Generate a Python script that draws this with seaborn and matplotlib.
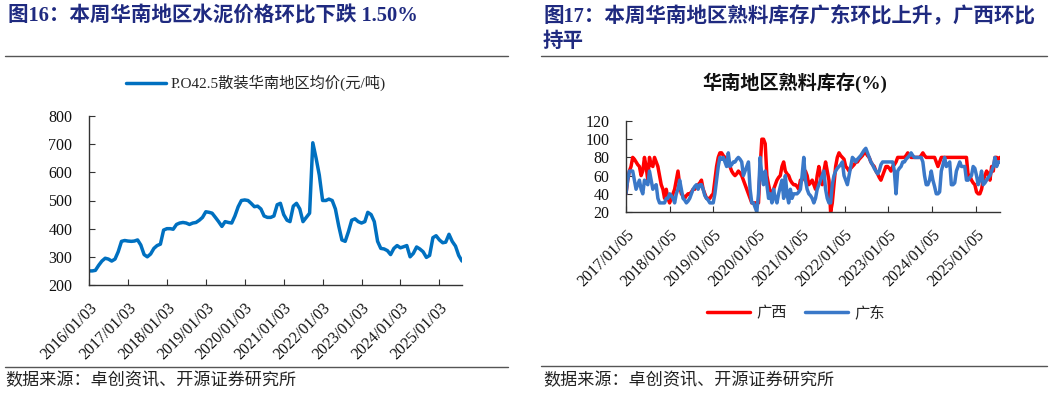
import numpy as np
import pandas as pd
import matplotlib
matplotlib.use("Agg")
import matplotlib.pyplot as plt
from matplotlib.lines import Line2D
import seaborn as sns

# ---------------- data ----------------
left_title = "图16：本周华南地区水泥价格环比下跌 1.50%"
left_series_name = "P.O42.5散装华南地区均价(元/吨)"
left_ticks = ["2016/01/03", "2017/01/03", "2018/01/03", "2019/01/03", "2020/01/03",
              "2021/01/03", "2022/01/03", "2023/01/03", "2024/01/03", "2025/01/03"]
# monthly average price, Jan 2016 .. Aug 2025
price_2016 = [250, 250, 252, 270, 285, 295, 292, 285, 292, 318, 355, 358]
price_2017 = [356, 355, 356, 360, 342, 308, 300, 310, 330, 340, 345, 395]
price_2018 = [400, 400, 398, 415, 420, 422, 420, 415, 420, 422, 430, 440]
price_2019 = [460, 458, 455, 440, 425, 408, 425, 422, 420, 445, 478, 500]
price_2020 = [502, 500, 490, 478, 480, 470, 445, 440, 440, 445, 485, 490]
price_2021 = [450, 430, 425, 480, 490, 470, 425, 440, 455, 705, 650, 590]
price_2022 = [500, 500, 505, 500, 470, 410, 360, 355, 390, 430, 435, 425]
price_2023 = [420, 425, 458, 450, 425, 355, 330, 328, 322, 308, 330, 340]
price_2024 = [332, 336, 340, 300, 312, 335, 328, 318, 298, 305, 368, 375]
price_2025 = [360, 350, 352, 380, 355, 338, 305, 285]

right_title_1 = "图17：本周华南地区熟料库存广东环比上升，广西环比"
right_title_2 = "持平"
right_chart_title = "华南地区熟料库存(%)"
right_ticks = ["2017/01/05", "2018/01/05", "2019/01/05", "2020/01/05", "2021/01/05",
               "2022/01/05", "2023/01/05", "2024/01/05", "2025/01/05"]
series_names = ["广西", "广东"]
# bi-weekly clinker inventory ratio (%), from 2017/01/05
gx_2017 = [40, 55, 65, 70, 80, 78, 75, 72, 70, 60, 65, 80, 70, 55, 80, 72, 70, 80, 75, 70, 60, 50, 45, 35, 45, 35]
gx_2018 = [30, 35, 40, 45, 55, 65, 50, 40, 38, 35, 38, 40, 40, 42, 45, 45, 48, 50, 52, 55, 45, 40, 35, 35, 35, 38]
gx_2019 = [40, 55, 70, 80, 85, 85, 82, 80, 75, 72, 70, 65, 62, 60, 62, 65, 63, 60, 55, 50, 45, 40, 35, 30, 30, 30]
gx_2020 = [30, 30, 70, 100, 100, 95, 60, 50, 42, 40, 45, 50, 55, 58, 60, 70, 75, 65, 62, 60, 55, 52, 50, 50, 48, 45]
gx_2021 = [55, 55, 60, 65, 60, 50, 52, 55, 50, 45, 60, 70, 60, 50, 65, 75, 65, 55, 20, 30, 50, 70, 80, 85, 82, 80]
gx_2022 = [78, 70, 68, 65, 68, 70, 72, 75, 75, 78, 80, 82, 85, 85, 82, 80, 75, 72, 70, 65, 62, 58, 55, 60, 65, 70]
gx_2023 = [70, 68, 65, 70, 72, 75, 80, 80, 80, 80, 80, 82, 85, 82, 80, 80, 80, 80, 80, 80, 82, 85, 82, 80, 80, 80]
gx_2024 = [80, 80, 80, 75, 70, 75, 80, 80, 80, 80, 80, 80, 80, 80, 80, 80, 80, 80, 80, 80, 80, 80, 60, 60, 55, 52]
gx_2025 = [50, 42, 40, 40, 45, 55, 60, 65, 62, 55, 70, 65, 80, 80, 78, 80]

gd_2017 = [40, 55, 65, 65, 65, 55, 45, 50, 55, 45, 40, 55, 52, 50, 65, 55, 45, 48, 50, 35, 30, 30, 30, 30, 35, 35]
gd_2018 = [40, 38, 35, 30, 40, 45, 55, 45, 35, 33, 30, 32, 35, 40, 45, 48, 50, 45, 50, 50, 45, 38, 35, 33, 30, 30]
gd_2019 = [30, 40, 55, 70, 80, 78, 80, 75, 70, 85, 70, 72, 75, 75, 78, 80, 78, 75, 60, 65, 70, 75, 45, 30, 30, 25]
gd_2020 = [20, 40, 80, 60, 50, 65, 50, 35, 40, 30, 45, 35, 30, 40, 48, 55, 35, 60, 40, 30, 45, 35, 40, 40, 40, 42]
gd_2021 = [45, 60, 80, 55, 45, 40, 38, 35, 30, 35, 45, 50, 55, 60, 65, 45, 35, 30, 30, 50, 60, 65, 68, 70, 72, 75]
gd_2022 = [60, 55, 50, 60, 70, 80, 78, 75, 78, 80, 82, 85, 88, 90, 85, 80, 75, 72, 68, 65, 62, 65, 72, 75, 75, 75]
gd_2023 = [75, 75, 75, 75, 65, 40, 65, 68, 70, 75, 75, 78, 80, 82, 85, 82, 80, 80, 80, 80, 80, 75, 60, 50, 50, 55]
gd_2024 = [65, 55, 48, 40, 40, 42, 65, 72, 80, 70, 72, 75, 50, 50, 52, 65, 70, 75, 70, 70, 70, 55, 55, 58, 60, 70]
gd_2025 = [68, 60, 50, 55, 65, 50, 52, 55, 58, 60, 65, 70, 80, 70, 75, 75]

source_text = "数据来源：卓创资讯、开源证券研究所"

# ---------------- build frames ----------------
price = (price_2016 + price_2017 + price_2018 + price_2019 + price_2020 +
         price_2021 + price_2022 + price_2023 + price_2024 + price_2025)
price_dates = pd.date_range("2016-01-01", periods=len(price), freq="MS") + pd.Timedelta(days=2)
df_left = pd.DataFrame({"date": price_dates, "value": price})

gx = gx_2017 + gx_2018 + gx_2019 + gx_2020 + gx_2021 + gx_2022 + gx_2023 + gx_2024 + gx_2025
gd = gd_2017 + gd_2018 + gd_2019 + gd_2020 + gd_2021 + gd_2022 + gd_2023 + gd_2024 + gd_2025
inv_dates = pd.date_range("2017-01-05", periods=len(gx), freq="14D")
df_right = pd.DataFrame({
    "date": list(inv_dates) * 2,
    "value": gx + gd,
    "series": [series_names[0]] * len(gx) + [series_names[1]] * len(gd),
})

# ---------------- style ----------------
sns.set_style("ticks")
plt.rcParams["font.family"] = ["Liberation Serif", "Noto Sans CJK SC", "DejaVu Sans"]
plt.rcParams["axes.unicode_minus"] = False

W, H = 1057, 393
fig = plt.figure(figsize=(W / 100, H / 100), dpi=100)

def fx(px):
    return px / W

def fy(py):
    return 1 - py / H

navy = "#1F2A80"
cjk = ["Noto Sans CJK SC", "DejaVu Sans"]
mixed = ["Liberation Serif", "Noto Sans CJK SC", "DejaVu Sans"]

# titles
fig.text(fx(8), fy(17), left_title, color=navy, fontsize=14.8, fontweight="bold",
         family=mixed, ha="left", va="center")
fig.text(fx(543), fy(17), right_title_1, color=navy, fontsize=14.8, fontweight="bold",
         family=mixed, ha="left", va="center")
fig.text(fx(543), fy(42), right_title_2, color=navy, fontsize=14.8, fontweight="bold",
         family=mixed, ha="left", va="center")

# separators
for (x0, x1, y) in [(5, 508, 56), (541, 1047, 56), (5, 508, 367), (541, 1047, 366)]:
    fig.add_artist(Line2D([fx(x0), fx(x1)], [fy(y), fy(y)], transform=fig.transFigure,
                          color="#555555", lw=1.0))

fig.text(fx(5), fy(380), source_text, fontsize=12.3, family=cjk, ha="left", va="center",
         color="#222222")
fig.text(fx(543), fy(380), source_text, fontsize=12.3, family=cjk, ha="left", va="center",
         color="#222222")

# chart title of the right panel
fig.text(fx(795), fy(83), right_chart_title, family=mixed, fontsize=13.8,
         fontweight="bold", ha="center", va="center", color="#111111")

# ---------------- left chart ----------------
axL = fig.add_axes([fx(89), fy(285), fx(462) - fx(89), fy(116) - fy(285)])
sns.lineplot(data=df_left, x="date", y="value", ax=axL, color="#0070C0", lw=2.5,
             label=left_series_name)
axL.set_ylim(200, 800)
axL.set_yticks(range(200, 801, 100))
lt = pd.to_datetime(left_ticks, format="%Y/%m/%d")
axL.set_xticks(lt)
axL.set_xticklabels(left_ticks, rotation=45, ha="right", rotation_mode="anchor")
axL.set_xlim(lt[0], df_left["date"].iloc[-1])
axL.set_xlabel("")
axL.set_ylabel("")
axL.legend(loc="center", bbox_to_anchor=(fx(256), fy(83)), bbox_transform=fig.transFigure,
           frameon=False, prop={"family": mixed, "size": 11}, handlelength=2.6,
           handletextpad=0.3)

# ---------------- right chart ----------------
axR = fig.add_axes([fx(626), fy(212), fx(1000) - fx(626), fy(121) - fy(212)])
sns.lineplot(data=df_right, x="date", y="value", hue="series", ax=axR,
             palette={series_names[0]: "#FF0000", series_names[1]: "#3A78C8"}, lw=2.5)
axR.set_ylim(20, 120)
axR.set_yticks(range(20, 121, 20))
rt = pd.to_datetime(right_ticks, format="%Y/%m/%d")
axR.set_xticks(rt)
axR.set_xticklabels(right_ticks, rotation=45, ha="right", rotation_mode="anchor")
axR.set_xlim(rt[0], df_right["date"].max())
axR.set_xlabel("")
axR.set_ylabel("")
axR.legend(loc="center", bbox_to_anchor=(fx(796), fy(313)), bbox_transform=fig.transFigure,
           frameon=False, ncol=2, prop={"family": cjk, "size": 11}, handlelength=2.8,
           handletextpad=0.4, columnspacing=1.2, title=None)

for ax in (axL, axR):
    sns.despine(ax=ax)
    for s in ("left", "bottom"):
        ax.spines[s].set_color("#333333")
        ax.spines[s].set_linewidth(1.0)
    ax.tick_params(axis="both", direction="in", length=4, width=0.8, color="#333333",
                   labelsize=11.5, labelcolor="#111111")
    ax.tick_params(axis="y", pad=12)
    ax.tick_params(axis="x", pad=11)
    for lab in ax.get_xticklabels() + ax.get_yticklabels():
        lab.set_family(["Liberation Serif"])

fig.savefig("out.png", dpi=100)
